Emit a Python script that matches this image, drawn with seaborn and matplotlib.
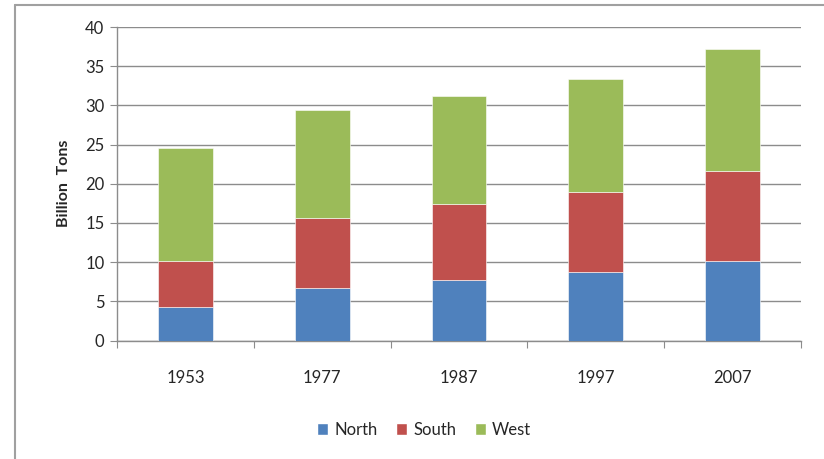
import numpy as np
import pandas as pd
import matplotlib
matplotlib.use("Agg")
import matplotlib.pyplot as plt
import seaborn as sns
from matplotlib.patches import Patch
from matplotlib.lines import Line2D

years = ["1953", "1977", "1987", "1997", "2007"]
north = [4.3, 6.7, 7.7, 8.7, 10.1]
south = [5.85, 8.9, 9.75, 10.3, 11.55]
west = [14.35, 13.75, 13.7, 14.4, 15.55]

colors = {"North": "#4F81BD", "South": "#C0504D", "West": "#9BBB59"}

sns.set_style("white")
plt.rcParams['font.family'] = ['Lato', 'DejaVu Sans']

df = pd.DataFrame({"year": years, "North": north, "South": south, "West": west})

fig = plt.figure(figsize=(8.24, 4.59), dpi=100)
ax = fig.add_axes([117/824, 1 - 340.5/459, (801-117)/824, (340.5-27)/459])

bottom = np.zeros(len(years))
for s in ["North", "South", "West"]:
    sns.barplot(data=df, x="year", y=s, color=colors[s], bottom=bottom,
                width=0.4, saturation=1, ax=ax, edgecolor="white", linewidth=0.4, zorder=3)
    bottom = bottom + df[s].values

ax.set_ylim(0, 40)
ax.set_yticks(range(0, 41, 5))
ax.set_xlim(-0.5, len(years) - 0.5)
ax.grid(axis="y", color="#8c8c8c", linewidth=1, zorder=0)
ax.set_axisbelow(True)

for sp in ["top", "right"]:
    ax.spines[sp].set_visible(False)
for sp in ["left", "bottom"]:
    ax.spines[sp].set_color("#8c8c8c")
    ax.spines[sp].set_linewidth(1)

# x ticks at category boundaries
ax.set_xticks(np.arange(-0.5, len(years), 1), minor=False)
ax.set_xticklabels([])
ax.set_xticks(range(len(years)), minor=True)
ax.set_xticklabels(years, minor=True, fontsize=12)
ax.tick_params(axis="x", which="major", length=5, color="#8c8c8c", direction="out", bottom=True)
ax.tick_params(axis="x", which="minor", length=0, pad=21)
ax.tick_params(axis="y", length=5, color="#8c8c8c", direction="out", left=True, labelsize=12, pad=4)

ax.set_xlabel("")
ax.set_ylabel("Billion  Tons", fontsize=11.5, fontweight="bold", labelpad=10)

handles = [Patch(facecolor=colors[s], label=s) for s in ["North", "South", "West"]]
fig.legend(handles=handles, loc="center", bbox_to_anchor=(424/824, 1 - 430/459), ncol=3,
           frameon=False, fontsize=12, handlelength=0.7, handleheight=0.7,
           handletextpad=0.35, columnspacing=1.1)

# outer chart frame
fig.add_artist(Line2D([15/824, 15/824], [0, 1 - 5/459], color="#a0a0a0", linewidth=1.5, transform=fig.transFigure))
fig.add_artist(Line2D([15/824, 1], [1 - 5/459, 1 - 5/459], color="#a0a0a0", linewidth=1.5, transform=fig.transFigure))

fig.savefig("out.png", dpi=100)
